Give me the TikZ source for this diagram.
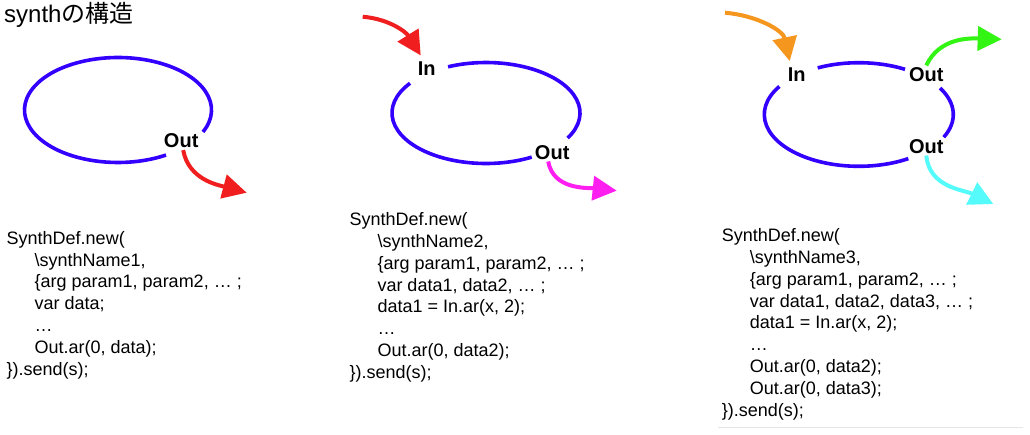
\documentclass[tikz,border=0pt]{standalone}
\usepackage{fontspec}
\setmainfont{Liberation Sans}
\newfontfamily\jpfont{Noto Sans CJK JP}
\usetikzlibrary{arrows.meta}
\definecolor{loopblue}{RGB}{51,0,255}
\definecolor{sigred}{RGB}{240,30,30}
\definecolor{sigmagenta}{RGB}{255,30,240}
\definecolor{sigorange}{RGB}{245,150,30}
\definecolor{siggreen}{RGB}{50,245,20}
\definecolor{sigcyan}{RGB}{85,250,250}
\tikzset{
  loopline/.style={draw=loopblue, line width=3.6pt},
  port/.style={font=\fontsize{20}{24}\selectfont\bfseries, inner sep=2pt},
  codeline/.style={font=\fontsize{18}{22}\selectfont, anchor=base west, inner sep=0pt},
  sig/.style={line width=4pt, -{Triangle[length=24pt,width=24pt]}},
}
\newcommand\ellArc[6]{\draw[loopline] ([shift={(#5:#3pt and #4pt)}]#1,#2) arc[start angle=#5,end angle=#6,x radius=#3pt,y radius=#4pt];}
\newcommand\ind{\hspace*{28pt}}
\newcommand\codeblock[4]{%
  \foreach \txt [count=\k from 0] in {#4} {
    \node[codeline, name=#1-\k] at (#2, -#3-21.8*\k) {\txt};
  }}
\begin{document}
\begin{tikzpicture}[x=1pt,y=1pt]
\useasboundingbox (0,0) rectangle (1030,-434);
\fill[white] (0,0) rectangle (1030,-434);

% title
\node[anchor=base west, font=\fontsize{24}{28}\selectfont, inner sep=0pt] (title) at (4,-22.7) {synth{\jpfont の構造}};

% panel 1
\ellArc{118}{-110}{93.5}{52.5}{-24.7}{300.9}
\node[port] (out1) at (181.2,-140.8) {Out};
\coordinate (t1) at (246.7,-192.7);
\draw[sig, sigred] ([xshift=2pt]out1.south) to[out=-80,in=165] (t1);

% panel 2
\ellArc{486}{-113}{94}{50.5}{-29.7}{113.8}
\ellArc{486}{-113}{94}{50.5}{143.9}{299.1}
\node[port] (in2) at (426.7,-68.5) {In};
\node[port] (out2) at (552.2,-152.2) {Out};
\coordinate (s2) at (362.7,-16.7);
\draw[sig, sigred] (s2) to[out=-5,in=122] ([xshift=-6pt,yshift=4pt]in2.north);
\coordinate (t2) at (616.7,-190.7);
\draw[sig, sigmagenta] ([xshift=-4pt]out2.south) to[out=-80,in=174] (t2);

% panel 3
\ellArc{858.8}{-114.5}{94.5}{51.8}{60.7}{115.8}
\ellArc{858.8}{-114.5}{94.5}{51.8}{-26}{30.7}
\ellArc{858.8}{-114.5}{94.5}{51.8}{147.2}{301.6}
\node[port] (in3) at (796.7,-74.2) {In};
\node[port] (out3a) at (926.3,-74.7) {Out};
\node[port] (out3b) at (926.3,-146.3) {Out};
\coordinate (s3) at (725,-12.7);
\draw[sig, sigorange] (s3) to[out=-5,in=102] ([xshift=-7pt,yshift=4pt]in3.north);
\coordinate (t3a) at (1001.7,-39.3);
\draw[sig, siggreen] (out3a.north) to[out=65,in=178] (t3a);
\coordinate (t3b) at (993.3,-204);
\draw[sig, sigcyan] (out3b.south) to[out=-85,in=154] (t3b);

% code blocks
\codeblock{codeA}{6.5}{244.3}{
  {SynthDef.new(},
  {\ind\textbackslash synthName1,},
  {\ind\{arg param1, param2, … ;},
  {\ind var data;},
  {\ind …},
  {\ind Out.ar(0, data);},
  {\}).send(s);}}
\codeblock{codeB}{349.3}{225.7}{
  {SynthDef.new(},
  {\ind\textbackslash synthName2,},
  {\ind\{arg param1, param2, … ;},
  {\ind var data1, data2, … ;},
  {\ind data1 = In.ar(x, 2);},
  {\ind …},
  {\ind Out.ar(0, data2);},
  {\}).send(s);}}
\codeblock{codeC}{721.7}{241.7}{
  {SynthDef.new(},
  {\ind\textbackslash synthName3,},
  {\ind\{arg param1, param2, … ;},
  {\ind var data1, data2, data3, … ;},
  {\ind data1 = In.ar(x, 2);},
  {\ind …},
  {\ind Out.ar(0, data2);},
  {\ind Out.ar(0, data3);},
  {\}).send(s);}}

\draw[black!10, line width=1pt] (718,-427) -- (1023,-427);
\end{tikzpicture}
\end{document}
